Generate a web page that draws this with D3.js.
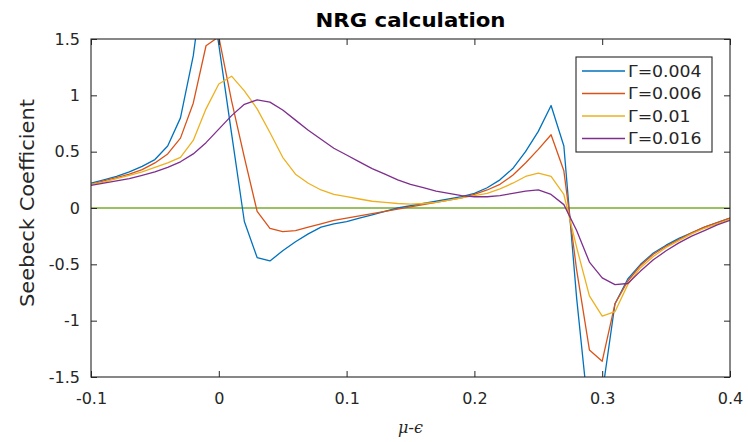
<!DOCTYPE html>
<html>
<head>
<meta charset="utf-8">
<script src="https://cdn.jsdelivr.net/npm/d3@7"></script>
<style>
  html, body { margin: 0; padding: 0; background: #fff; }
  svg { display: block; font-family: "DejaVu Sans", sans-serif; }
</style>
</head>
<body>
<svg id="chart" width="748" height="442"></svg>
<script>
// ---- data ----
const xValues = [-0.10,-0.09,-0.08,-0.07,-0.06,-0.05,-0.04,-0.03,-0.02,-0.01,
  0.00,0.01,0.02,0.03,0.04,0.05,0.06,0.07,0.08,0.09,
  0.10,0.11,0.12,0.13,0.14,0.15,0.16,0.17,0.18,0.19,
  0.20,0.21,0.22,0.23,0.24,0.25,0.26,0.27,0.28,0.29,
  0.30,0.31,0.32,0.33,0.34,0.35,0.36,0.37,0.38,0.39,0.40];

const gamma004 = [0.22,0.25,0.28,0.32,0.37,0.43,0.55,0.80,1.35,2.20,
  1.45,0.66,-0.12,-0.44,-0.47,-0.38,-0.30,-0.23,-0.17,-0.14,
  -0.12,-0.09,-0.06,-0.03,0.00,0.02,0.04,0.06,0.08,0.10,
  0.13,0.18,0.25,0.35,0.50,0.68,0.91,0.55,-0.80,-1.90,
  -1.65,-0.85,-0.63,-0.50,-0.40,-0.33,-0.27,-0.22,-0.17,-0.13,-0.09];

const gamma006 = [0.21,0.24,0.27,0.30,0.34,0.40,0.48,0.62,0.93,1.44,
  1.52,0.95,0.45,-0.03,-0.18,-0.21,-0.20,-0.17,-0.14,-0.11,
  -0.09,-0.07,-0.05,-0.03,-0.01,0.01,0.03,0.05,0.07,0.09,
  0.12,0.16,0.21,0.29,0.40,0.52,0.65,0.33,-0.55,-1.26,
  -1.36,-0.85,-0.65,-0.51,-0.41,-0.34,-0.28,-0.22,-0.17,-0.13,-0.09];

const gamma010 = [0.21,0.23,0.26,0.29,0.32,0.36,0.40,0.45,0.60,0.88,
  1.10,1.17,1.04,0.88,0.67,0.45,0.30,0.22,0.16,0.12,
  0.10,0.08,0.06,0.05,0.04,0.035,0.04,0.05,0.07,0.09,
  0.11,0.13,0.17,0.22,0.28,0.31,0.28,0.12,-0.35,-0.78,
  -0.96,-0.92,-0.68,-0.53,-0.43,-0.35,-0.29,-0.23,-0.18,-0.14,-0.10];

const gamma016 = [0.20,0.22,0.24,0.26,0.29,0.32,0.36,0.41,0.48,0.58,
  0.70,0.82,0.92,0.96,0.94,0.87,0.78,0.69,0.61,0.53,
  0.47,0.41,0.35,0.30,0.25,0.21,0.18,0.15,0.13,0.11,
  0.10,0.10,0.11,0.13,0.15,0.16,0.12,0.03,-0.20,-0.48,
  -0.62,-0.68,-0.67,-0.56,-0.46,-0.38,-0.31,-0.25,-0.20,-0.15,-0.11];

const seriesNames = ["\u0393=0.004","\u0393=0.006","\u0393=0.01","\u0393=0.016"];
const seriesColors = ["#0072BD","#D95319","#EDB120","#7E2F8E"];
const zeroLineColor = "#77AC30";

const xTicks = [-0.1,0,0.1,0.2,0.3,0.4];
const xTickLabels = ["-0.1","0","0.1","0.2","0.3","0.4"];
const yTicks = [-1.5,-1,-0.5,0,0.5,1,1.5];
const yTickLabels = ["-1.5","-1","-0.5","0","0.5","1","1.5"];

const titleText = "NRG calculation";
const yLabelText = "Seebeck Coefficient";

// ---- layout ----
const svg = d3.select("#chart");
const L = 91, R = 730, T = 39, B = 377;
const axisColor = "#262626";

const x = d3.scaleLinear().domain([-0.1, 0.4]).range([L, R]);
const y = d3.scaleLinear().domain([-1.5, 1.5]).range([B, T]);

svg.append("rect").attr("width", 748).attr("height", 442).attr("fill", "#fff");

svg.append("defs").append("clipPath").attr("id", "plotclip")
  .append("rect").attr("x", L).attr("y", T).attr("width", R - L).attr("height", B - T);

// zero line
svg.append("line")
  .attr("x1", x(-0.1)).attr("x2", x(0.4))
  .attr("y1", y(0)).attr("y2", y(0))
  .attr("stroke", zeroLineColor).attr("stroke-width", 1.3);

// series
const allSeries = [gamma004, gamma006, gamma010, gamma016];
const line = d3.line().x((d, i) => x(xValues[i])).y(d => y(d));
const gLines = svg.append("g").attr("clip-path", "url(#plotclip)");
allSeries.forEach((s, k) => {
  gLines.append("path")
    .datum(s)
    .attr("d", line)
    .attr("fill", "none")
    .attr("stroke", seriesColors[k])
    .attr("stroke-width", 1.3)
    .attr("stroke-linejoin", "round");
});

// axes
function styleAxis(g) {
  g.selectAll("path.domain").remove();
  g.selectAll("line").attr("stroke", axisColor).attr("stroke-width", 1);
  g.selectAll("text").attr("fill", axisColor).attr("font-size", 16)
    .attr("font-family", "DejaVu Sans, sans-serif");
}

svg.append("g").attr("transform", `translate(0,${B})`)
  .call(d3.axisBottom(x).tickValues(xTicks).tickFormat((d, i) => xTickLabels[i])
    .tickSizeInner(-6).tickSizeOuter(0).tickPadding(16))
  .call(styleAxis);

svg.append("g").attr("transform", `translate(0,${T})`)
  .call(d3.axisTop(x).tickValues(xTicks).tickFormat("")
    .tickSizeInner(-6).tickSizeOuter(0))
  .call(styleAxis);

svg.append("g").attr("transform", `translate(${L},0)`)
  .call(d3.axisLeft(y).tickValues(yTicks).tickFormat((d, i) => yTickLabels[i])
    .tickSizeInner(-6).tickSizeOuter(0).tickPadding(11))
  .call(styleAxis);

svg.append("g").attr("transform", `translate(${R},0)`)
  .call(d3.axisRight(y).tickValues(yTicks).tickFormat("")
    .tickSizeInner(-6).tickSizeOuter(0))
  .call(styleAxis);

// box
svg.append("rect")
  .attr("x", L).attr("y", T).attr("width", R - L).attr("height", B - T)
  .attr("fill", "none").attr("stroke", axisColor).attr("stroke-width", 1.1);

// title
svg.append("text")
  .attr("x", (L + R) / 2).attr("y", 26.5)
  .attr("text-anchor", "middle")
  .attr("font-weight", "bold").attr("font-size", 19)
  .attr("textLength", 190).attr("lengthAdjust", "spacingAndGlyphs")
  .attr("fill", "#000")
  .text(titleText);

// y label
svg.append("text")
  .attr("transform", `translate(34,203) rotate(-90)`)
  .attr("text-anchor", "middle")
  .attr("font-size", 19.5)
  .attr("textLength", 208).attr("lengthAdjust", "spacingAndGlyphs")
  .attr("fill", axisColor)
  .text(yLabelText);

// x label
const xl = svg.append("text")
  .attr("x", (L + R) / 2).attr("y", 433)
  .attr("text-anchor", "middle")
  .attr("font-size", 16)
  .attr("fill", axisColor);
xl.append("tspan").attr("font-style", "italic").attr("font-family", "DejaVu Serif, serif").text("\u03BC");
xl.append("tspan").text("-");
xl.append("tspan").attr("font-style", "italic").attr("font-family", "DejaVu Serif, serif").text("\u03F5");

// legend
const legX = 576, legY = 57, legW = 136, legH = 95;
const leg = svg.append("g");
leg.append("rect").attr("x", legX).attr("y", legY).attr("width", legW).attr("height", legH)
  .attr("fill", "#fff").attr("stroke", axisColor).attr("stroke-width", 1.1);
const rowYs = [71, 93.5, 116, 138.5];
seriesNames.forEach((name, k) => {
  leg.append("line")
    .attr("x1", 582).attr("x2", 625)
    .attr("y1", rowYs[k]).attr("y2", rowYs[k])
    .attr("stroke", seriesColors[k]).attr("stroke-width", 1.3);
  const t = leg.append("text")
    .attr("x", 628).attr("y", rowYs[k]).attr("dy", "0.36em")
    .attr("font-size", 16).attr("fill", axisColor)
    .text(name);
  const w = t.node().getComputedTextLength();
  t.attr("textLength", w * 1.08).attr("lengthAdjust", "spacingAndGlyphs");
});
</script>
</body>
</html>
